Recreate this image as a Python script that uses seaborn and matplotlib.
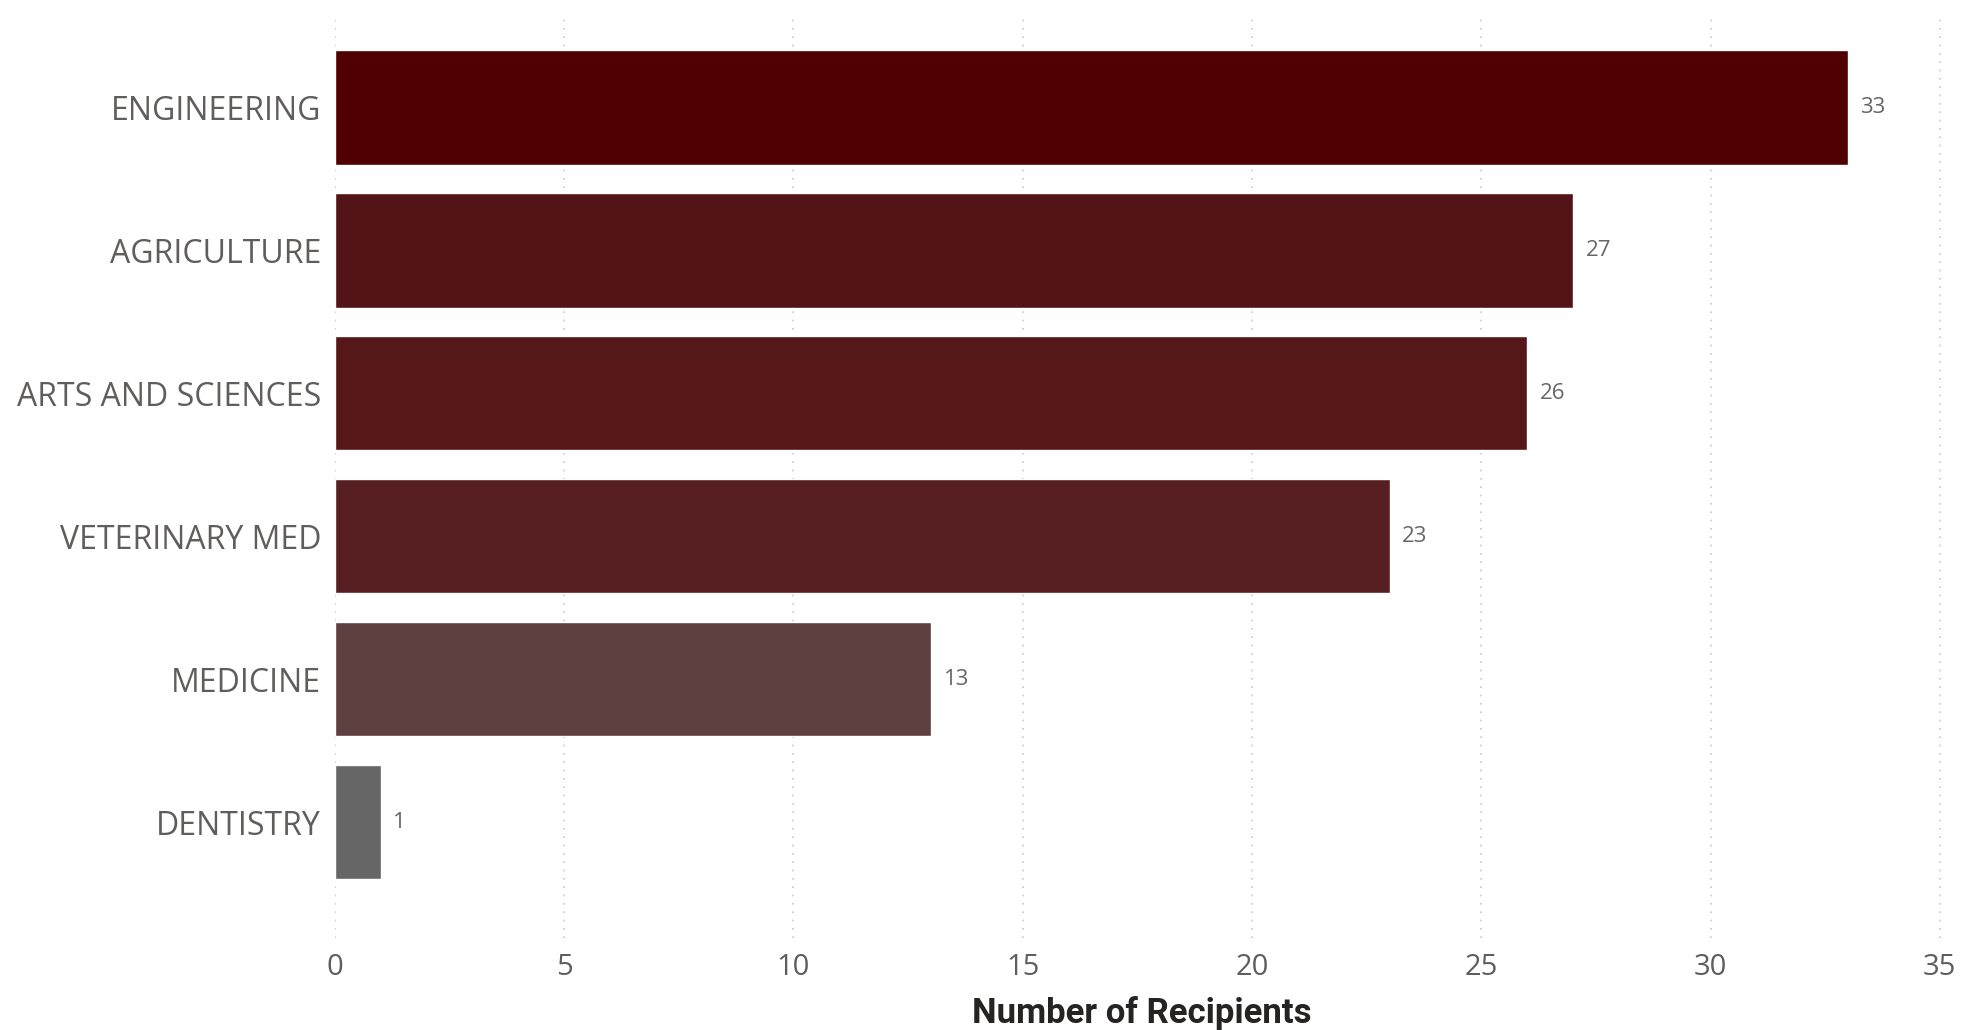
import matplotlib
matplotlib.use("Agg")
import matplotlib.pyplot as plt
import seaborn as sns
import pandas as pd

colleges = ["ENGINEERING", "AGRICULTURE", "ARTS AND SCIENCES", "VETERINARY MED", "MEDICINE", "DENTISTRY"]
recipients = [33, 27, 26, 23, 13, 1]
bar_colors = ["#500000", "#521416", "#551718", "#571F21", "#5E4041", "#666666"]
x_ticks = [0, 5, 10, 15, 20, 25, 30, 35]

df = pd.DataFrame({"College": colleges, "Recipients": recipients})

sns.set_theme(style="white")
plt.rcParams["font.family"] = ["Open Sans", "DejaVu Sans"]

fig = plt.figure(figsize=(19.74, 10.30), dpi=100)
ax = fig.add_axes([0.1697, 0.0893, 0.8176, 0.8981])

sns.barplot(data=df, y="College", x="Recipients", hue="College",
            palette=dict(zip(colleges, bar_colors)), order=colleges,
            orient="h", width=0.8, legend=False, ax=ax, saturation=1)

for cont, val in zip(ax.containers, recipients):
    ax.bar_label(cont, labels=[str(val)], padding=9, fontsize=16, color="#666666")

ax.set_xlim(0, 35.2)
ax.set_ylim(5.81, -0.66)
ax.set_xticks(x_ticks)
ax.set_xticklabels([str(t) for t in x_ticks])
ax.tick_params(axis="x", labelsize=21, labelcolor="#605E5C", length=0, pad=11)
ax.tick_params(axis="y", labelsize=23, labelcolor="#605E5C", length=0, pad=10)

ax.grid(axis="x", linestyle=(0, (1, 4)), color="#C8C8C8", linewidth=1.2)
ax.set_axisbelow(True)
for s in ax.spines.values():
    s.set_visible(False)

ax.set_ylabel("")
ax.set_xlabel("Number of Recipients", fontsize=25, fontweight="bold",
              color="#252423", family=["Roboto", "DejaVu Sans"], labelpad=10)

fig.savefig("out.png", dpi=100)
